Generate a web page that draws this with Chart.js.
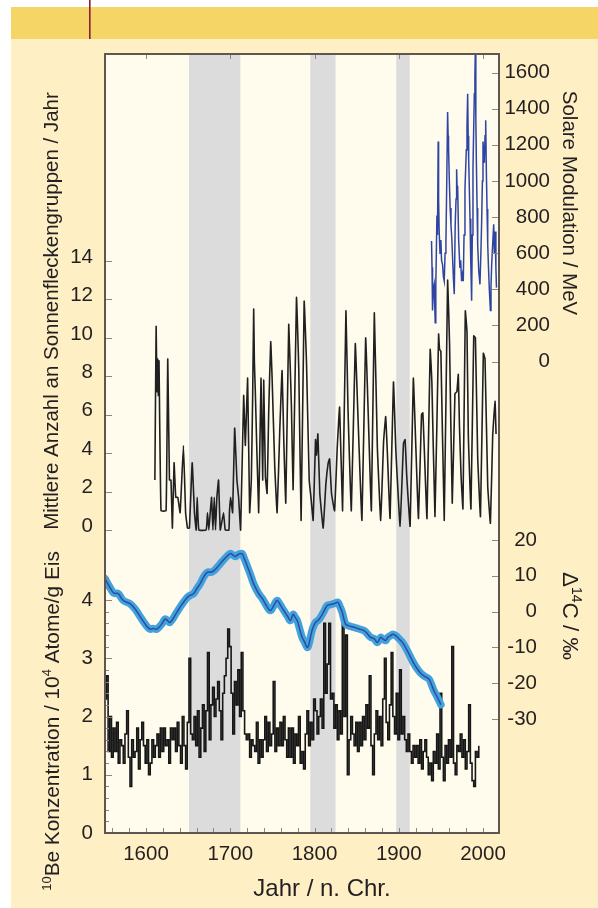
<!DOCTYPE html>
<html><head><meta charset="utf-8">
<script src="https://cdn.jsdelivr.net/npm/chart.js@4.4.1/dist/chart.umd.min.js"></script>
<style>html,body{margin:0;padding:0;background:#fff;}canvas{display:block;}</style>
</head><body>
<canvas id="c" width="598" height="908"></canvas>
<script>
// ---------- DATA ----------
const yearTicks = [1600, 1700, 1800, 1900, 2000];
const yearMinorTicks = [1560,1580,1600,1620,1640,1660,1680,1700,1720,1740,1760,1780,1800,1820,1840,1860,1880,1900,1920,1940,1960,1980,2000];
const sunTicks = [0, 2, 4, 6, 8, 10, 12, 14];
const beTicks = [0, 1, 2, 3, 4];
const beMinorTicks = [0.2,0.4,0.6,0.8,1.2,1.4,1.6,1.8,2.2,2.4,2.6,2.8,3.2,3.4,3.6,3.8,4.2,4.4];
const modTicks = [0, 200, 400, 600, 800, 1000, 1200, 1400, 1600];
const c14Ticks = [20, 10, 0, -10, -20, -30];

const bandStarts = [1651, 1795, 1897];
const bandEnds   = [1712, 1825, 1913];

// mean number of sunspot groups per year
const sunYears = [1610.5,1612,1613,1613.8,1614.6,1615.4,1617.8,1623.8,1625.8,1627.8,1629.6,1631.3,1633.3,1635.3,1637.7,1640.5,1644.4,1647,1649.2,1651.5,1654.8,1657.5,1659.5,1660.7,1662.7,1671.4,1673,1674.6,1676.2,1677.8,1679.4,1681,1682.5,1684.1,1686.1,1688.1,1692,1694,1698.4,1699,1700.4,1702.8,1705.2,1707.9,1709.9,1712.3,
1715.9,1717.9,1720.6,1723,1725,1726.6,1727.8,1728.6,1729.8,1733.7,1736.5,1738.5,1739.7,1741.7,1743.7,1745.6,1748,1749.6,1752.8,1755.6,1758.7,1761.5,1763.5,1765.9,1769.4,1772.6,1774.6,1778.6,1781.3,1784.1,1787.7,1790.5,1793.7,1796,1798.4,1801.2,1802.4,1804,1806.3,1810.3,1813.5,1816.3,1817.9,1820.2,1823.8,1827,1829.8,1833.3,1837.3,1839.7,1843.7,1848.4,1851.2,1856.3,1860.7,1864.7,1867.5,1871,1874.6,1878.6,1882,1884.5,1886.5,1889.7,1893.7,1896.5,1901.6,1905.6,1907.5,1909.5,1913.5,1917.3,1920.3,1923.4,1927,1928.6,1930.5,1933.5,1937.3,1939.3,1943,1947.3,1948.4,1950,1954,1958,1960.3,1963.5,1966.7,1969,1970.7,1972,1974,1976.2,1979,1981,1982.6,1985.7,1989,1991,1993.7,1997,2000.4,2002.4,2005.6,2008.8,2011.5,2014.3,2015.5];
const sunValues = [2.6,10.6,7.2,8.9,7.0,8.8,1.0,1.0,8.9,2.6,2.6,0.1,3.5,1.7,1.7,0.9,4.4,0.9,0.1,0.1,3.5,0.9,0,1.7,0,0,0.9,0,0.9,1.7,0,1.7,0,1.7,2.6,0,0.9,0,0,0.9,1.7,0.9,5.3,2.6,1.7,0,
7.0,4.4,7.9,0.9,2.6,7.0,11.5,8.8,7.1,0.9,7.9,2.6,7.8,2.8,1.9,6.1,9.8,8.0,3.3,0.9,5.1,8.3,4.7,1.4,10.7,6.4,2.1,12.1,8.4,0.5,11.9,8.7,2.6,1.6,0.5,4.7,3.9,5.0,1.9,0.1,2.4,3.5,3.7,1.9,1.0,4.3,6.4,1.0,11.4,6.4,1.0,9.7,6.4,0.5,10.0,4.7,1.0,11.3,4.3,0.5,4.6,5.9,4.0,0.6,7.7,4.2,0.2,4.5,4.7,2.8,0.2,7.9,4.3,0.6,6.0,6.1,4.0,0.6,9.4,7.7,0.7,10.2,9.4,9.3,0.5,13.0,9.7,1.4,7.1,7.2,8.1,5.5,2.8,1.1,11.4,10.3,4.9,1.1,10.1,10.0,3.8,0.7,9.2,8.9,2.3,0.35,4.9,6.7,5.0];

// solar modulation (MeV)
const modYears = [1938.9,1939.5,1940.1,1941,1942.1,1942.6,1943.3,1944,1945.3,1946,1946.8,1947.3,1948,1949,1950,1950.8,1952,1953,1954,1955,1956,1957,1958,1958.6,1959.1,1960,1961,1962,1963,1963.9,1965,1965.9,1967,1968,1968.7,1969.3,1969.9,1971.1,1972.6,1973.5,1974.6,1975.5,1976.6,1977.5,1978.6,1979.3,1980.2,1981,1981.8,1982.4,1983,1984.6,1985.5,1986.5,1987.3,1988.1,1989,1989.7,1990.4,1990.9,1991.5,1992.1,1993,1993.7,1995,1996.4,1997.5,1998.4,1999.3,2000,2000.8,2001.6,2002.4,2003.2,2004,2004.8,2005.6,2006.4,2007.5,2008.8,2009.5,2010.3,2011.5,2012.7,2013.5,2014.3,2015.3,2016];
const modValues = [667,520,282,400,427,330,215,420,809,700,1218,900,718,600,673,560,536,470,445,600,664,1000,1382,1250,1191,1009,850,755,680,573,450,373,755,900,1064,950,973,673,518,560,445,480,445,700,955,1050,1173,1300,1482,1250,1118,791,550,336,700,1064,1300,1482,1580,1720,1350,1118,850,645,500,427,600,773,1000,1218,1150,1100,1250,1336,1050,845,650,536,400,282,420,536,650,760,600,720,520,409];

// delta 14C (permil)
const c14Years = [1551.3,1557,1561,1563,1567,1573,1581,1587,1595,1600,1604.7,1608,1612.7,1618.6,1622.6,1625,1628.5,1636.5,1642,1648.4,1652,1656.3,1660,1664.3,1669,1673,1677,1680,1685,1690,1695,1700,1703,1706,1710,1713.9,1716,1719.8,1724,1727.7,1733.7,1738,1743.6,1747.6,1751,1755.5,1759,1763.5,1768,1771.4,1774.6,1777,1779.4,1782,1785.3,1788,1791.3,1793,1796,1798,1801.2,1804,1807.1,1811,1815,1818,1823,1825,1827.7,1830,1832.9,1836.9,1841,1846.8,1852,1858.7,1862,1866.6,1871,1874.6,1878.5,1881,1884.5,1887,1890.4,1893,1896.4,1900,1904.3,1908,1912.3,1917,1922.2,1926,1930.1,1933,1936.1,1939,1942,1946,1950];
const c14Values = [9.2,6.8,5.3,5.1,5.0,3.1,2.2,0.7,-2.1,-3.8,-4.9,-4.7,-4.9,-3.5,-2.1,-2.4,-3.0,-0.2,1.8,3.8,4.5,5.0,6.3,7.8,9.9,11.0,11.0,11.3,12.5,13.9,15.2,16.2,15.8,15.4,16.0,16.2,15.2,12.9,10.3,7.8,5.0,3.7,1.4,0.3,1.4,3.1,2.0,0.3,-1.3,-2.5,-0.8,-1.6,-2.5,-4.5,-7.2,-8.4,-10.0,-9.4,-6.3,-4.6,-3.0,-2.5,-1.6,0.0,1.7,1.9,2.2,2.4,2.6,1.5,-0.2,-3.5,-4.0,-4.4,-4.8,-5.3,-6.0,-7.2,-7.6,-8.6,-7.2,-7.6,-8.1,-7.2,-6.7,-6.3,-6.7,-7.5,-8.6,-10.0,-11.9,-14.1,-16.1,-17.2,-18.0,-18.4,-18.9,-20.5,-22.2,-24.0,-26.0];

// 10Be concentration (10^4 atoms / g ice), two-year samples from 1551
const beFirstYear = 1551;
const beYearStep = 2;
const beValues = [
2.3,2.7,1.4,2.0,1.3, 1.8,1.4,1.9,1.2,1.6, 1.5,1.2,1.7,2.1,1.3, 0.8,1.6,1.3,1.4,1.8, 1.1,1.6,1.9,1.5,1.2,
1.6,1.0,1.2,1.6,1.3, 1.5,1.7,1.3,1.8,1.4, 1.8,1.5,1.6,1.2,1.8, 1.6,1.8,1.4,1.9,1.5, 1.2,2.0,1.5,1.1,1.9,
3.0,1.7,1.6,2.0,1.5, 2.1,1.3,1.8,2.2,1.4, 2.1,3.1,1.6,2.2,2.5, 2.0,2.3,2.6,2.1,1.6, 2.4,2.7,3.0,3.5,3.2,
2.4,1.7,2.6,2.2,2.8, 2.0,3.1,2.1,1.7,1.6, 1.7,1.3,1.6,1.5,1.4, 1.9,1.2,1.6,1.3,1.6, 2.0,1.4,1.9,1.5,1.7,
2.6,1.4,1.8,1.5,1.9, 1.5,2.0,1.6,1.3,1.8, 1.3,1.8,1.2,1.7,1.5, 2.0,1.2,1.4,1.1,1.7, 2.1,1.5,1.9,1.6,2.3,
2.1,1.7,2.0,2.3,1.8, 3.6,2.4,2.9,3.6,2.3, 2.4,1.8,2.2,1.6,2.1, 1.7,3.7,2.0,3.4,1.0, 1.6,2.0,1.7,1.5,1.9,
1.4,1.9,1.5,2.0,1.6, 2.2,1.8,2.7,1.5,1.0, 1.7,2.1,1.6,2.0,1.5, 2.3,3.0,1.9,1.6,2.2, 3.1,2.0,1.7,2.4,1.6,
2.8,1.7,2.0,1.6,1.4, 1.7,1.4,1.2,1.5,1.3, 1.5,1.2,1.6,1.1,1.4, 1.6,1.3,1.0,1.2,0.9, 1.4,1.2,1.7,1.1,2.4,
1.3,0.9,1.5,1.2,1.6, 1.3,3.2,1.2,1.0,1.5, 1.4,1.7,1.3,1.6,1.1, 1.4,2.2,1.2,0.9,0.8, 1.4,1.3,1.5];

// ---------- TEXT ----------
const xTitle = 'Jahr / n. Chr.';
const sunTitle = 'Mittlere Anzahl an Sonnenfleckengruppen / Jahr';
const beTitle = [{t:'10',sup:true},{t:'Be Konzentration / 10'},{t:'4',sup:true},{t:' Atome/g Eis'}];
const modTitle = 'Solare Modulation / MeV';
const c14Title = [{t:'\u0394'},{t:'14',sup:true},{t:'C / \u2030'}];

// ---------- CHART ----------
const FONT = "'Liberation Sans', Arial, Helvetica, sans-serif";
const TXT = '#231f20';
const pts = (xs, ys) => xs.map((x, i) => ({x, y: ys[i]}));
const beYears = beValues.map((v, i) => beFirstYear + i * beYearStep);
const fixed = arr => scale => { scale.ticks = arr.map(v => ({value: v})); };
const tickFont = {family: FONT, size: 20.5};

const baseY = (extra) => Object.assign({
  type: 'linear',
  grid: {display: false, drawTicks: false},
  border: {display: false},
}, extra);

function drawRich(ctx, parts, x, y, rot, size) {
  ctx.save();
  ctx.translate(x, y);
  ctx.rotate(rot);
  ctx.fillStyle = TXT;
  ctx.textBaseline = 'alphabetic';
  ctx.textAlign = 'left';
  const main = size + 'px ' + FONT, sup = Math.round(size * 0.62) + 'px ' + FONT;
  let total = 0;
  parts.forEach(p => { ctx.font = p.sup ? sup : main; p.w = ctx.measureText(p.t).width; total += p.w; });
  let cx = -total / 2;
  parts.forEach(p => { ctx.font = p.sup ? sup : main; ctx.fillText(p.t, cx, p.sup ? -size * 0.38 : 0); cx += p.w; });
  ctx.restore();
}

const decor = {
  id: 'decor',
  beforeDraw(chart) {
    const ctx = chart.ctx, a = chart.chartArea, W = chart.width, H = chart.height;
    ctx.save();
    ctx.fillStyle = '#ffffff'; ctx.fillRect(0, 0, W, H);
    ctx.fillStyle = '#f5d566'; ctx.fillRect(11, 7, W - 11, 32);
    ctx.fillStyle = '#feefc5'; ctx.fillRect(11, 39, W - 11, H - 39);
    ctx.fillStyle = '#8a1f3d'; ctx.fillRect(89, 0, 1.6, 39);
    ctx.fillStyle = '#fffcee'; ctx.fillRect(a.left, a.top, a.right - a.left, a.bottom - a.top);
    const xs = chart.scales.x;
    ctx.fillStyle = '#dcdcdc';
    bandStarts.forEach((s, i) => {
      const x0 = xs.getPixelForValue(s), x1 = xs.getPixelForValue(bandEnds[i]);
      ctx.fillRect(x0, a.top, x1 - x0, a.bottom - a.top);
    });
    ctx.restore();
  },
  afterDatasetsDraw(chart) {
    const ctx = chart.ctx, a = chart.chartArea, s = chart.scales;
    ctx.save();
    ctx.strokeStyle = '#9b8276';
    ctx.lineWidth = 1;
    const hline = (x0, x1, y) => { ctx.beginPath(); ctx.moveTo(x0, Math.round(y) + 0.5); ctx.lineTo(x1, Math.round(y) + 0.5); ctx.stroke(); };
    const vline = (x, y0, y1) => { ctx.beginPath(); ctx.moveTo(Math.round(x) + 0.5, y0); ctx.lineTo(Math.round(x) + 0.5, y1); ctx.stroke(); };
    sunTicks.forEach(v => hline(a.left, a.left + 7, s.ySun.getPixelForValue(v)));
    beTicks.forEach(v => hline(a.left, a.left + 7, s.yBe.getPixelForValue(v)));
    beMinorTicks.forEach(v => hline(a.left, a.left + 4, s.yBe.getPixelForValue(v)));
    modTicks.forEach(v => hline(a.right - 7, a.right, s.yMod.getPixelForValue(v)));
    c14Ticks.forEach(v => hline(a.right - 7, a.right, s.yC14.getPixelForValue(v)));
    yearMinorTicks.forEach(v => vline(s.x.getPixelForValue(v), a.bottom, a.bottom - 5));
    yearTicks.forEach(v => vline(s.x.getPixelForValue(v), a.top, a.top + 5));
    ctx.strokeStyle = '#5e5650';
    ctx.lineWidth = 2;
    ctx.strokeRect(a.left, a.top, a.right - a.left, a.bottom - a.top);
    ctx.restore();
  },
  afterDraw(chart) {
    const ctx = chart.ctx;
    drawRich(ctx, [{t: sunTitle}], 58, 311, -Math.PI / 2, 20.5);
    drawRich(ctx, beTitle, 59, 721, -Math.PI / 2, 20.8);
    drawRich(ctx, [{t: modTitle}], 563, 203, Math.PI / 2, 20.5);
    drawRich(ctx, c14Title, 563, 616, Math.PI / 2, 22.5);
    drawRich(ctx, [{t: xTitle}], 322, 896, 0, 24);
  }
};

new Chart(document.getElementById('c'), {
  type: 'line',
  data: {
    datasets: [
      {label: 'Solare Modulation', data: pts(modYears, modValues), yAxisID: 'yMod', borderColor: '#2f45a3', borderWidth: 1.5, pointRadius: 0, tension: 0},
      {label: 'Delta14C', data: pts(c14Years, c14Values), yAxisID: 'yC14', borderColor: '#2c4c9c', borderWidth: 1.5, pointRadius: 0, tension: 0.4},
      {label: 'Delta14C band', data: pts(c14Years, c14Values), yAxisID: 'yC14', borderColor: '#42a2de', borderWidth: 7.5, pointRadius: 0, tension: 0.4, borderCapStyle: 'round', borderJoinStyle: 'round'},
      {label: 'Sonnenfleckengruppen', data: pts(sunYears, sunValues), yAxisID: 'ySun', borderColor: '#202020', borderWidth: 1.6, pointRadius: 0, tension: 0.1},
      {label: '10Be', data: pts(beYears, beValues), yAxisID: 'yBe', borderColor: '#161616', borderWidth: 1.6, pointRadius: 0, stepped: true}
    ]
  },
  options: {
    responsive: false,
    devicePixelRatio: 1,
    animation: false,
    events: [],
    layout: {padding: {top: 54, right: 48, left: 0, bottom: 0}},
    plugins: {legend: {display: false}, tooltip: {enabled: false}, title: {display: false}},
    scales: {
      x: {
        type: 'linear', position: 'bottom', min: 1551.3, max: 2019,
        grid: {display: false, drawTicks: false}, border: {display: false},
        afterBuildTicks: fixed(yearTicks),
        afterFit: sc => { sc.height = 75; },
        ticks: {font: tickFont, color: TXT, padding: 9, autoSkip: false, maxRotation: 0, callback: v => String(v)}
      },
      yBe: baseY({
        position: 'left', stack: 'left', stackWeight: 273, min: 0, max: 4.687,
        afterBuildTicks: fixed(beTicks),
        afterFit: sc => { sc.width = 105; },
        ticks: {font: tickFont, color: TXT, padding: 12, autoSkip: false, callback: v => String(v)}
      }),
      ySun: baseY({
        position: 'left', stack: 'left', stackWeight: 506, min: -1.562, max: 24.773,
        afterBuildTicks: fixed(sunTicks),
        afterFit: sc => { sc.width = 105; },
        ticks: {font: tickFont, color: TXT, padding: 12, labelOffset: -4, autoSkip: false, callback: v => String(v)}
      }),
      yMod: baseY({
        position: 'right', stack: 'right', stackWeight: 476, min: -933, max: 1702.7,
        afterBuildTicks: fixed(modTicks),
        afterFit: sc => { sc.width = 51; },
        ticks: {font: tickFont, color: TXT, padding: 6, crossAlign: 'far', autoSkip: false, callback: v => String(v)}
      }),
      yC14: baseY({
        position: 'right', stack: 'right', stackWeight: 303, min: -61.85, max: 22.79,
        afterBuildTicks: fixed(c14Ticks),
        afterFit: sc => { sc.width = 51; },
        ticks: {font: tickFont, color: TXT, padding: 38, mirror: true, autoSkip: false, callback: v => String(v)}
      })
    }
  },
  plugins: [decor]
});
</script>
</body></html>
